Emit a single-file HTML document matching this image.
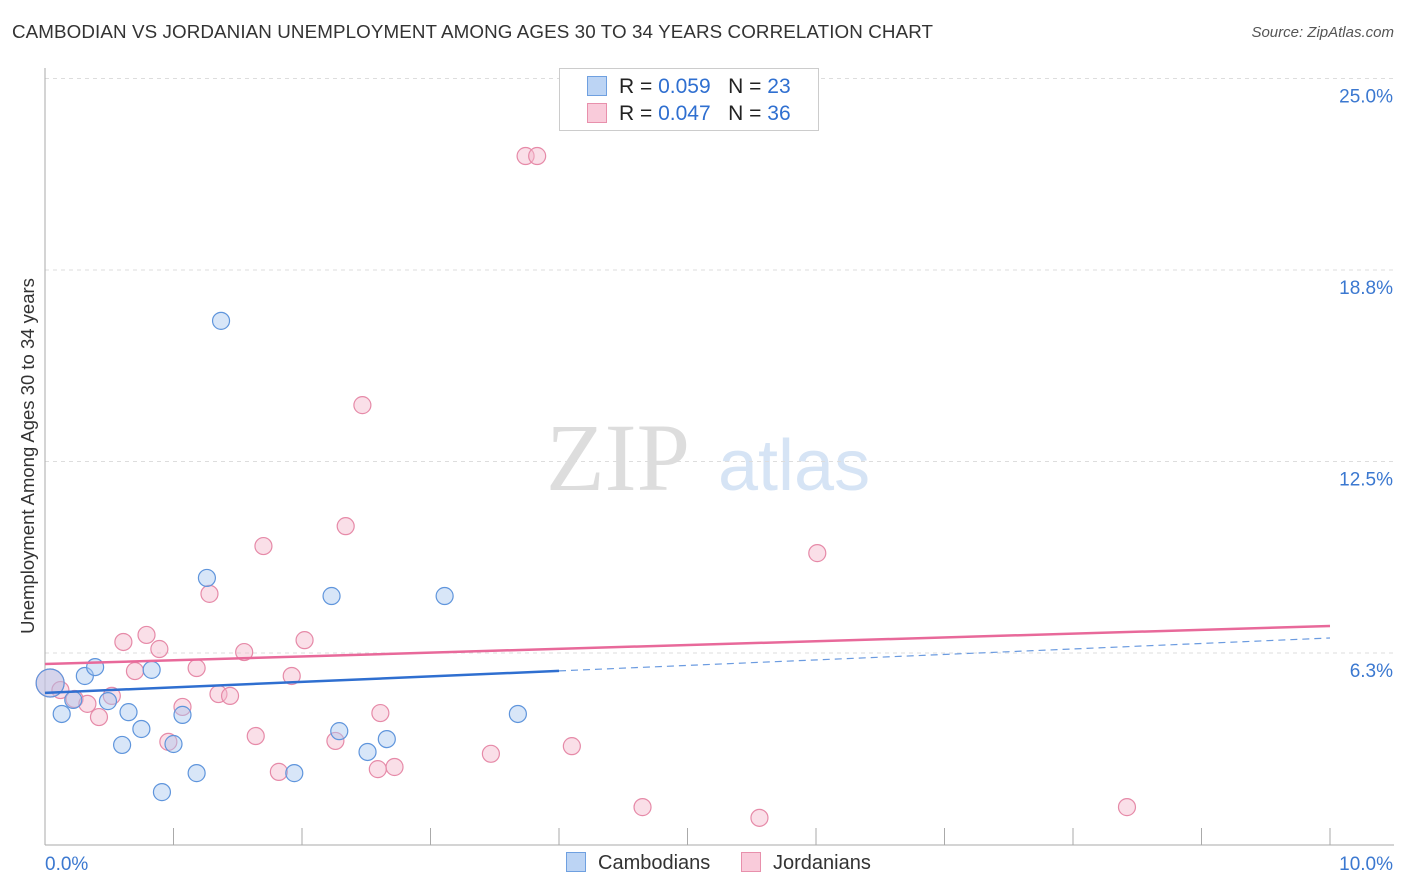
<!DOCTYPE html>
<html><head><meta charset="utf-8"><style>
body{margin:0;background:#fff;font-family:"Liberation Sans",sans-serif;}
#wrap{position:relative;width:1406px;height:892px;overflow:hidden;}
.t{position:absolute;white-space:nowrap;}
</style></head><body>
<div id="wrap">
<div class="t" style="left:12px;top:21px;font-size:18.8px;color:#333;letter-spacing:0.1px;">CAMBODIAN VS JORDANIAN UNEMPLOYMENT AMONG AGES 30 TO 34 YEARS CORRELATION CHART</div>
<div class="t" style="right:12px;top:24px;font-size:15px;color:#555;font-style:italic;">Source: ZipAtlas.com</div>
<div class="t" style="left:28px;top:456px;font-size:18.5px;color:#333;transform:translate(-50%,-50%) rotate(-90deg);">Unemployment Among Ages 30 to 34 years</div>
<svg id="plot" width="1406" height="892" style="position:absolute;left:0;top:0"></svg>
</div>
<script>
const yTicks=[25,18.75,12.5,6.25];
const yTickLabels=["25.0%","18.8%","12.5%","6.3%"];
const xTickLabels=["0.0%","10.0%"];
const camX=[0.04,0.13,0.22,0.31,0.39,0.49,0.60,0.65,0.75,0.83,0.91,1.00,1.07,1.18,1.26,1.37,1.94,2.23,2.29,2.51,2.66,3.11,3.68];
const camY=[5.27,4.26,4.72,5.50,5.79,4.68,3.25,4.32,3.77,5.70,1.71,3.28,4.23,2.33,8.70,17.09,2.33,8.11,3.70,3.02,3.44,8.11,4.26];
const jorX=[0.04,0.12,0.23,0.33,0.42,0.52,0.61,0.70,0.79,0.89,0.96,1.07,1.18,1.28,1.35,1.44,1.55,1.64,1.70,1.82,1.92,2.02,2.26,2.34,2.47,2.59,2.61,2.72,3.47,3.74,3.83,4.10,4.65,5.56,6.01,8.42];
const jorY=[5.27,5.04,4.75,4.59,4.16,4.85,6.61,5.66,6.84,6.38,3.35,4.49,5.76,8.18,4.91,4.85,6.28,3.54,9.74,2.37,5.50,6.67,3.38,10.39,14.34,2.46,4.29,2.53,2.96,22.47,22.47,3.21,1.22,0.87,9.51,1.22];
const camTrend=[4.95,6.74];
const jorTrend=[5.89,7.13];
const X0=45,X1=1330,YB=844.5,PX=191.5/6.25;
const xs=v=>X0+(v/10)*(X1-X0);
const ys=v=>YB-v*PX;
const svg=document.getElementById('plot');
const NS='http://www.w3.org/2000/svg';
function mk(tag,attrs,parent){const e=document.createElementNS(NS,tag);for(const k in attrs)e.setAttribute(k,attrs[k]);(parent||svg).appendChild(e);return e;}
let w=mk('text',{x:690,y:490,'font-size':96,'font-family':'Liberation Serif,serif',fill:'#ddd','text-anchor':'end'});w.textContent='ZIP';


let w2=mk('text',{x:718,y:490,'font-size':72,'font-family':'Liberation Sans,sans-serif',fill:'#d6e4f5'});w2.textContent='atlas';


yTicks.forEach((v,i)=>{
 let g=mk('line',{x1:X0,x2:1394,y1:ys(v),y2:ys(v),stroke:'#ddd','stroke-dasharray':'4,4'});
 
 
 let t=mk('text',{x:1393,y:ys(v)+24,'font-size':19,fill:'#3b78d0','text-anchor':'end'});t.textContent=yTickLabels[i];
 
 
});
let ax=mk('line',{x1:X0,x2:X0,y1:68,y2:845,stroke:'#aaa'});


let bx=mk('line',{x1:X0,x2:1394,y1:845,y2:845,stroke:'#aaa'});


for(let i=1;i<=10;i++){let tk=mk('line',{x1:xs(i),x2:xs(i),y1:828,y2:845,stroke:'#aaa'});
 
 }
[[0,X0,'start'],[1,1393,'end']].forEach(([i,x,a])=>{let t=mk('text',{x:x,y:870,'font-size':19,fill:'#3b78d0','text-anchor':a});t.textContent=xTickLabels[i];
 
 });
function pts(X,Y,fill,stroke,name){X.forEach((x,i)=>{const r=i===0?14:8.5;
 let c=mk('circle',{cx:xs(x),cy:ys(Y[i]),r:r,fill:fill,'fill-opacity':0.45,stroke:stroke,'stroke-width':1.2});
 
 });}
pts(jorX,jorY,'#f5b8cc','#e68aa8','jordanian-point');
pts(camX,camY,'#a9c8f0','#5f95dc','cambodian-point');
const cy=x=>camTrend[0]+(camTrend[1]-camTrend[0])*x/10;
let l1=mk('line',{x1:xs(0),y1:ys(cy(0)),x2:xs(4),y2:ys(cy(4)),stroke:'#2f6fd0','stroke-width':2.5});


let l2=mk('line',{x1:xs(4),y1:ys(cy(4)),x2:xs(10),y2:ys(cy(10)),stroke:'#6b9be0','stroke-width':1.2,'stroke-dasharray':'7,5'});


let l3=mk('line',{x1:xs(0),y1:ys(jorTrend[0]),x2:xs(10),y2:ys(jorTrend[1]),stroke:'#e8699a','stroke-width':2.5});


</script>
<div class="t" style="left:559px;top:68px;width:258px;height:61px;border:1px solid #ccc;background:#fff;font-size:21px;color:#222;">
 <div style="position:absolute;left:27px;top:6px;"><span style="display:inline-block;width:18px;height:18px;background:#bcd4f4;border:1px solid #6fa0e0;vertical-align:-3px;margin-right:12px;"></span>R = <span style="color:#2f6fd0">0.059</span>&nbsp;&nbsp;&nbsp;N = <span style="color:#2f6fd0">23</span></div>
 <div style="position:absolute;left:27px;top:33px;"><span style="display:inline-block;width:18px;height:18px;background:#f9cbda;border:1px solid #e890ac;vertical-align:-3px;margin-right:12px;"></span>R = <span style="color:#2f6fd0">0.047</span>&nbsp;&nbsp;&nbsp;N = <span style="color:#2f6fd0">36</span></div>
</div>
<div class="t" style="left:566px;top:852px;font-size:20px;color:#333;"><span style="display:inline-block;width:18px;height:18px;background:#bcd4f4;border:1px solid #6fa0e0;vertical-align:-3px;margin-right:12px;"></span>Cambodians</div>
<div class="t" style="left:741px;top:852px;font-size:20px;color:#333;"><span style="display:inline-block;width:18px;height:18px;background:#f9cbda;border:1px solid #e890ac;vertical-align:-3px;margin-right:12px;"></span>Jordanians</div>
</body></html>
